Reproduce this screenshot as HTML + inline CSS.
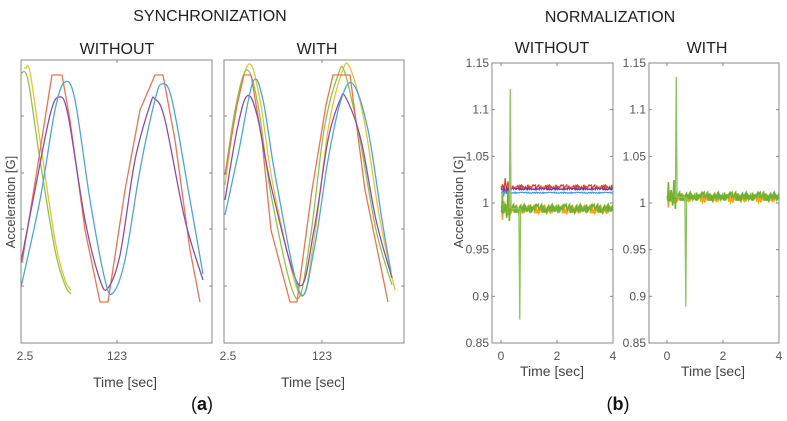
<!DOCTYPE html>
<html><head><meta charset="utf-8"><style>
html,body{margin:0;padding:0;background:#fff;}
body{width:787px;height:416px;overflow:hidden;font-family:"Liberation Sans",sans-serif;}
text{font-family:"Liberation Sans",sans-serif;}
</style></head><body>
<svg id="fig" width="787" height="416" viewBox="0 0 787 416" xmlns="http://www.w3.org/2000/svg">
<text x="210" y="21" font-size="16" text-anchor="middle" fill="#222">SYNCHRONIZATION</text>
<text x="610" y="22" font-size="16" text-anchor="middle" fill="#222">NORMALIZATION</text>
<text x="117" y="54" font-size="16" text-anchor="middle" fill="#222">WITHOUT</text>
<text x="317" y="54" font-size="16" text-anchor="middle" fill="#222">WITH</text>
<text x="552" y="53" font-size="16" text-anchor="middle" fill="#222">WITHOUT</text>
<text x="707" y="53" font-size="16" text-anchor="middle" fill="#222">WITH</text>
<text transform="translate(15,202) rotate(-90)" font-size="13" text-anchor="middle" fill="#444">Acceleration [G]</text>
<text transform="translate(463,202) rotate(-90)" font-size="13" text-anchor="middle" fill="#444">Acceleration [G]</text>
<text x="125" y="387" font-size="14" text-anchor="middle" fill="#444">Time [sec]</text>
<text x="313" y="387" font-size="14" text-anchor="middle" fill="#444">Time [sec]</text>
<text x="552" y="376" font-size="14" text-anchor="middle" fill="#444">Time [sec]</text>
<text x="713" y="376" font-size="14" text-anchor="middle" fill="#444">Time [sec]</text>
<text x="202" y="410" font-size="18" text-anchor="middle" fill="#111" font-family="Liberation Serif">(<tspan font-weight="bold">a</tspan>)</text>
<text x="618" y="410" font-size="18" text-anchor="middle" fill="#111" font-family="Liberation Serif">(<tspan font-weight="bold">b</tspan>)</text>
</svg>
<script>
const syncWithoutOrangeX=[1,16,27,31,41,49,64,79,87,104,119,134,142,154,169,179];
const syncWithoutOrangeY=[80,173,243,268,268,223,113,41,41,153,233,268,268,203,93,41];
const syncWithoutBlueX=[0,19,34,44,54,69,84,92,104,119,134,141,151,169,182];
const syncWithoutBlueY=[56,143,233,261,243,143,63,50,83,173,243,259,243,143,69];
const syncWithoutPurpleX=[0,14,29,38,47,64,79,87,99,114,129,134,144,164,182];
const syncWithoutPurpleY=[81,153,228,246,228,123,63,55,88,183,238,244,223,123,63];
const syncWithoutYellowX=[3,5,9,19,34,44,50];
const syncWithoutYellowY=[275,275,271,203,103,63,53];
const syncWithoutGreenX=[0,7,19,34,44,50];
const syncWithoutGreenY=[270,263,183,93,58,49];

const syncWithOrangeX=[1,13,20,27,38,47,66,73,88,102,109,126,141,164];
const syncWithOrangeY=[168,238,268,268,203,113,41,41,153,238,268,268,153,41];
const syncWithBlueX=[1,15,29,39,52,76,90,104,117,129,144,158,167];
const syncWithBlueY=[128,193,261,243,163,50,93,183,243,259,213,123,71];
const syncWithPurpleX=[1,13,23,33,48,75,90,104,116,122,137,152,168];
const syncWithPurpleY=[143,213,247,228,153,58,113,203,243,245,203,123,65];
const syncWithYellowX=[1,12,25,36,50,76,90,104,118,126,140,156,171];
const syncWithYellowY=[158,233,279,243,153,48,103,213,271,275,223,123,53];
const syncWithGreenX=[1,12,23,34,48,72,86,100,114,121,136,152,168];
const syncWithGreenY=[168,238,273,238,143,45,103,213,268,270,203,113,58];

const normTicksY=[0.85,0.9,0.95,1,1.05,1.1,1.15];
const normTickLabelsY=["0.85","0.9","0.95","1","1.05","1.1","1.15"];
const normTicksX=[0,2,4];
const jitter=[0.002,-0.003,0.004,-0.001,0.003,-0.004,0.001,0.004,-0.002,0.000,-0.003,0.003,-0.001,0.002,-0.004,0.003,0.001,-0.002,0.004,-0.003,0.000,0.002,-0.001,-0.004,0.003,0.001,-0.003,0.004,-0.002,0.002,0.000,-0.003,0.003,-0.001,0.004,-0.002,0.001,-0.004,0.002,0.003];
const withoutLevels=[1.017,1.015,1.011,0.993,0.994];
const withoutAmps=[0.6,0.25,0.15,1.0,1.1];
const withLevels=[1.006,1.006,1.007,1.005,1.007];
const withAmps=[0.5,0.3,0.3,0.9,1.1];
const normColors=["#e2451c","#7a34a8","#3d98e0","#f2a51e","#70b230"];
const withoutSpikeT=[0.30,0.33,0.36,0.64,0.67,0.70];
const withoutSpikeV=[0.994,1.122,0.994,0.994,0.875,0.994];
const withSpikeT=[0.30,0.33,0.36,0.64,0.67,0.70];
const withSpikeV=[1.006,1.135,1.006,1.006,0.889,1.006];
const startBurstT=[0.05,0.1,0.15,0.2,0.25,0.3];
const startBurstD=[0.004,-0.008,0.012,-0.015,0.010,-0.006];

const svg=document.getElementById('fig');
const NS='http://www.w3.org/2000/svg';
function mk(tag,attrs,parent){const e=document.createElementNS(NS,tag);for(const k in attrs)e.setAttribute(k,attrs[k]);(parent||svg).appendChild(e);return e;}
function smoothPath(pts){let d='M'+pts[0][0]+','+pts[0][1];for(let i=0;i<pts.length-1;i++){const p0=pts[Math.max(0,i-1)],p1=pts[i],p2=pts[i+1],p3=pts[Math.min(pts.length-1,i+2)];const c1=[p1[0]+(p2[0]-p0[0])/6,p1[1]+(p2[1]-p0[1])/6],c2=[p2[0]-(p3[0]-p1[0])/6,p2[1]-(p3[1]-p1[1])/6];d+=' C'+c1+' '+c2+' '+p2;}return d;}
function linPath(pts){return 'M'+pts.map(p=>p[0]+','+p[1]).join(' L');}

function syncPanel(left,right,name,series,tick123){
  const top=60,bottom=343;
  const sx=v=>left+v, sy=v=>bottom-v;
  const g=mk('g',{});
  
  
  series.forEach(s=>{
    const pts=s.x.map((v,i)=>[sx(v),sy(s.y[i])]);
    const p=mk('path',{d:s.lin?linPath(pts):smoothPath(pts),fill:'none',stroke:s.c,'stroke-width':1.3,'stroke-linejoin':'round'},g);
    
    
  });
  const fr=mk('rect',{x:left,y:top,width:right-left,height:bottom-top,fill:'none',stroke:'#888','stroke-width':1},g);
  
  
  [116,173,229,286].forEach(y=>{mk('line',{x1:left,x2:left+3,y1:y,y2:y,stroke:'#888'},g);mk('line',{x1:right-3,x2:right,y1:y,y2:y,stroke:'#888'},g);});
  mk('line',{x1:tick123,x2:tick123,y1:bottom-3,y2:bottom,stroke:'#888'},g);
  mk('line',{x1:tick123,x2:tick123,y1:top,y2:top+3,stroke:'#888'},g);
  const t1=mk('text',{x:left+4,y:360,'font-size':12,fill:'#555','text-anchor':'middle'},g);t1.textContent='2.5';
  
  
  const t2=mk('text',{x:tick123,y:360,'font-size':12,fill:'#555','text-anchor':'middle'},g);t2.textContent='123';
  
  
}
syncPanel(21,212,'sync-without-panel',[
 {x:syncWithoutYellowX,y:syncWithoutYellowY,c:'#e6c33b',n:'yellow-series'},
 {x:syncWithoutGreenX,y:syncWithoutGreenY,c:'#93c24a',n:'green-series'},
 {x:syncWithoutOrangeX,y:syncWithoutOrangeY,c:'#e8764e',n:'orange-series',lin:true},
 {x:syncWithoutPurpleX,y:syncWithoutPurpleY,c:'#8e4ea6',n:'purple-series'},
 {x:syncWithoutBlueX,y:syncWithoutBlueY,c:'#4ea6d9',n:'blue-series'}],117);
syncPanel(224,404,'sync-with-panel',[
 {x:syncWithYellowX,y:syncWithYellowY,c:'#e6c33b',n:'yellow-series'},
 {x:syncWithGreenX,y:syncWithGreenY,c:'#93c24a',n:'green-series'},
 {x:syncWithOrangeX,y:syncWithOrangeY,c:'#e8764e',n:'orange-series',lin:true},
 {x:syncWithPurpleX,y:syncWithPurpleY,c:'#8e4ea6',n:'purple-series'},
 {x:syncWithBlueX,y:syncWithBlueY,c:'#4ea6d9',n:'blue-series'}],322);

function normPanel(left,right,zeroX,name,levels,amps,spT,spV){
  const top=63,bottom=343;
  const sx=t=>zeroX+t*28, sy=v=>bottom-(v-0.85)/0.3*(bottom-top);
  const g=mk('g',{});
  
  
  levels.forEach((lv,si)=>{
    let pts=[];
    const n=160;
    for(let i=0;i<=n;i++){const t=i*4/n;let v=lv+jitter[(i*3+si*7)%jitter.length]*amps[si];
      const b=startBurstT.findIndex(bt=>Math.abs(bt-t)<0.013);if(b>=0)v+=startBurstD[(b+si)%startBurstD.length]*amps[si];
      pts.push(sx(t).toFixed(1)+','+sy(v).toFixed(1));}
    const p=mk('polyline',{points:pts.join(' '),fill:'none',stroke:normColors[si],'stroke-width':si>=3?1.6:1.2},g);
    
    
  });
  const sp=mk('polyline',{points:spT.map((t,i)=>sx(t)+','+sy(spV[i])).join(' '),fill:'none',stroke:'#8cc65a','stroke-width':1.3},g);
  
  
  const fr=mk('rect',{x:left,y:top,width:right-left,height:bottom-top,fill:'none',stroke:'#888'},g);
  
  
  normTicksY.forEach((v,i)=>{const y=sy(v);mk('line',{x1:left,x2:left+3,y1:y,y2:y,stroke:'#888'},g);mk('line',{x1:right-3,x2:right,y1:y,y2:y,stroke:'#888'},g);
    const t=mk('text',{x:left-3,y:y+4,'font-size':12,fill:'#555','text-anchor':'end'},g);t.textContent=normTickLabelsY[i];
    
    });
  normTicksX.forEach(v=>{const x=sx(v);mk('line',{x1:x,x2:x,y1:bottom-3,y2:bottom,stroke:'#888'},g);mk('line',{x1:x,x2:x,y1:top,y2:top+3,stroke:'#888'},g);
    const t=mk('text',{x:x,y:360,'font-size':12,fill:'#555','text-anchor':'middle'},g);t.textContent=String(v);
    
    });
}
normPanel(492,613,501,'norm-without-panel',withoutLevels,withoutAmps,withoutSpikeT,withoutSpikeV);
normPanel(649,779,667,'norm-with-panel',withLevels,withAmps,withSpikeT,withSpikeV);
</script>
</body></html>
